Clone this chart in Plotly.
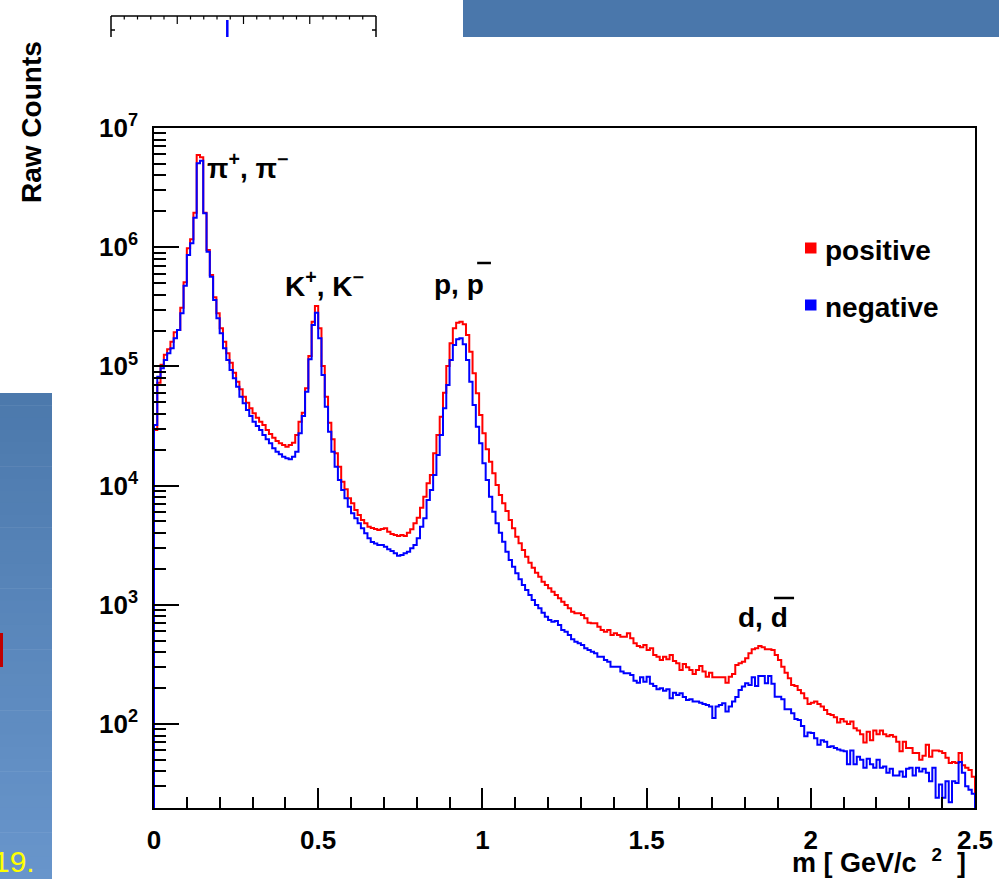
import numpy as np
import plotly.graph_objects as go

# Raw counts per 0.01 GeV/c^2 mass bin (0 - 2.5 GeV/c^2)
mass_min, mass_max, n_bins = 0.0, 2.5, 250

positive_counts = [
    29300, 73000, 103000, 125000, 139000, 161000, 193000, 202000, 311000, 508000,
    979000, 1165000, 1947000, 5937000, 5679000, 1947000, 947000, 585000, 380000, 279000,
    209000, 161000, 129000, 107400, 88600, 74400, 64200, 55700, 49600, 44500,
    40400, 37100, 34400, 32300, 29300, 27100, 25200, 23700, 22600, 21900,
    21200, 21900, 22900, 26600, 34400, 40900, 65500, 122300, 237100, 321000,
    208700, 100800, 55700, 33700, 24500, 18660, 14400, 10780, 9310, 7825,
    7100, 6240, 5665, 5145, 4828, 4520, 4408, 4323, 4242, 4323,
    4382, 4105, 3926, 3851, 3778, 3851, 3778, 4026, 4298, 4828,
    5378, 6523, 8070, 10450, 12270, 18660, 26570, 37840, 60170, 100800,
    156200, 208700, 232600, 237100, 225500, 183400, 132800, 87550, 59480, 39100,
    27460, 20170, 15860, 12680, 10120, 8340, 7100, 6122, 5145, 4382,
    3727, 3281, 2882, 2532, 2256, 2048, 1859, 1720, 1562, 1466,
    1375, 1288, 1208, 1134, 1062, 996, 935, 875, 848, 848,
    821, 770, 708, 699, 699, 655, 614, 595, 614, 558,
    577, 558, 540, 540, 577, 523, 475, 451, 440, 460,
    418, 432, 379, 367, 344, 367, 349, 379, 338, 323,
    284, 319, 299, 284, 263, 284, 307, 275, 249, 269,
    246, 246, 246, 246, 222, 249, 263, 313, 323, 333,
    356, 392, 423, 432, 451, 440, 423, 423, 418, 379,
    344, 302, 269, 242, 212, 208, 193, 181, 164, 147,
    151, 154, 147, 140, 131, 121, 119, 114, 103, 110,
    105, 100, 105, 92, 88, 82, 70, 86, 73, 88,
    82, 88, 82, 79, 81, 78, 71, 59, 71, 63,
    63, 57, 57, 50, 54, 67, 53, 60, 60, 59,
    57, 52, 47, 48, 47, 57, 45, 43, 41, 36,
]

negative_counts = [
    32200, 81980, 96400, 113200, 128800, 141800, 172000, 202000, 278900, 475300,
    860000, 1078000, 1768000, 5055000, 5315000, 1925000, 917000, 565600, 360600, 253200,
    189500, 141800, 113200, 93300, 79470, 67540, 55700, 49020, 43080, 38360,
    34360, 31600, 29300, 26570, 24460, 22630, 20550, 19250, 18300, 17470,
    16940, 16620, 17470, 19250, 27460, 38360, 61350, 114700, 222500, 282200,
    172000, 84700, 45900, 28330, 19250, 14400, 11140, 9185, 7825, 6650,
    5853, 5316, 4828, 4382, 3980, 3613, 3364, 3268, 3174, 3174,
    3072, 2921, 2827, 2704, 2582, 2617, 2704, 2788, 2979, 3174,
    3613, 4520, 5316, 7570, 9185, 12270, 18060, 26570, 44500, 69800,
    113200, 151200, 168800, 172000, 153200, 113200, 74400, 47450, 31200, 22630,
    15380, 11140, 8070, 6039, 4828, 4026, 3383, 2788, 2376, 2087,
    1838, 1636, 1466, 1331, 1208, 1097, 996, 935, 858, 795,
    746, 722, 731, 677, 614, 595, 558, 513, 490, 475,
    460, 432, 418, 404, 392, 367, 367, 344, 333, 302,
    302, 302, 275, 266, 266, 258, 231, 222, 246, 226,
    249, 217, 208, 196, 199, 190, 196, 164, 183, 175,
    181, 168, 159, 161, 154, 154, 151, 147, 144, 140,
    112, 140, 144, 149, 127, 140, 154, 168, 193, 206,
    220, 212, 246, 208, 253, 253, 220, 253, 217, 169,
    169, 161, 133, 133, 123, 110, 108, 96, 79, 85,
    84, 76, 67, 73, 71, 64, 65, 63, 61, 60,
    59, 46, 60, 46, 53, 50, 43, 51, 46, 43,
    50, 43, 44, 39, 42, 37, 37, 40, 36, 42,
    43, 37, 43, 40, 42, 39, 33, 43, 24, 31,
    24, 33, 22, 33, 32, 48, 39, 30, 28, 26,
]

x_tick_values = [0, 0.5, 1, 1.5, 2, 2.5]
x_tick_labels = ["0", "0.5", "1", "1.5", "2", "2.5"]
y_tick_values = [1e2, 1e3, 1e4, 1e5, 1e6, 1e7]
y_tick_labels = ["10<sup>2</sup>", "10<sup>3</sup>", "10<sup>4</sup>",
                 "10<sup>5</sup>", "10<sup>6</sup>", "10<sup>7</sup>"]

series_names = ["positive", "negative"]
series_colors = ["#ff0000", "#0000ff"]

# ---- page geometry (pixels) ----
W, H = 999, 879
PL, PR, PT, PB = 154, 975, 128, 808


def hx(px):
    return (px - PL) / (PR - PL)


def hy(py):
    return (PB - py) / (PB - PT)


edges = np.linspace(mass_min, mass_max, n_bins + 1)
FLOOR = 1.0  # below the visible range, so the outline closes on the axis


def outline(counts):
    xs = [edges[0]] + list(edges[:-1]) + [edges[-1], edges[-1]]
    ys = [FLOOR] + list(counts) + [counts[-1], FLOOR]
    return xs, ys


fig = go.Figure()
for name, counts, color in zip(series_names, [positive_counts, negative_counts], series_colors):
    xs, ys = outline(counts)
    fig.add_trace(go.Scatter(x=xs, y=ys, mode="lines", name=name,
                             line=dict(color=color, width=2, shape="hv"),
                             hoverinfo="skip"))

label_font = dict(family="Liberation Sans, Arial, sans-serif", color="black", weight="bold")

fig.update_layout(
    width=W, height=H,
    margin=dict(l=PL, r=W - PR, t=PT, b=H - PB, pad=0),
    paper_bgcolor="white", plot_bgcolor="white",
    showlegend=False,
)
fig.update_xaxes(
    range=[mass_min, mass_max], showgrid=False, zeroline=False, automargin=False,
    showline=True, mirror=True, linecolor="black", linewidth=1.5,
    ticks="inside", ticklen=20, tickwidth=1.5, tickcolor="black",
    tickmode="array", tickvals=x_tick_values, ticktext=x_tick_labels,
    tickfont=dict(size=26, **label_font), ticklabelstandoff=8,
    minor=dict(tickmode="linear", tick0=0, dtick=0.1, ticks="inside",
               ticklen=11, tickwidth=1.5, tickcolor="black"),
)
fig.update_yaxes(
    type="log", range=[1.295, 7.0], showgrid=False, zeroline=False, automargin=False,
    showline=True, mirror=True, linecolor="black", linewidth=1.5,
    ticks="inside", ticklen=25, tickwidth=1.5, tickcolor="black",
    tickmode="array", tickvals=y_tick_values, ticktext=y_tick_labels,
    tickfont=dict(size=26, **label_font), ticklabelstandoff=9,
    minor=dict(dtick="D1", ticks="inside", ticklen=12, tickwidth=1.5,
               tickcolor="black"),
)

shapes = []
annotations = []

# slide backdrop pieces around the chart
shapes.append(dict(type="rect", xref="paper", yref="paper",
                   x0=hx(463), x1=hx(W + 2), y0=hy(37), y1=hy(-2),
                   fillcolor="#4a77ab", line=dict(width=0), layer="above"))
n_bands = 40
top_rgb = np.array([76, 121, 172])
bot_rgb = np.array([104, 149, 203])
band_edges = np.linspace(393, H + 2, n_bands + 1)
for i in range(n_bands):
    t = i / (n_bands - 1)
    r, g, b = (top_rgb + (bot_rgb - top_rgb) * t).round().astype(int)
    shapes.append(dict(type="rect", xref="paper", yref="paper",
                       x0=hx(-2), x1=hx(52), y0=hy(band_edges[i + 1] + 0.5), y1=hy(band_edges[i]),
                       fillcolor=f"rgb({r},{g},{b})", line=dict(width=0), layer="above"))
shapes.append(dict(type="rect", xref="paper", yref="paper",
                   x0=hx(-2), x1=hx(3), y0=hy(667), y1=hy(633),
                   fillcolor="#c00000", line=dict(width=0), layer="above"))
annotations.append(dict(text="19.", xref="paper", yref="paper", x=hx(-9), y=hy(861),
                        xanchor="left", yanchor="middle", showarrow=False,
                        font=dict(family="Liberation Sans, Arial", size=30, color="#ffff00")))

# small axis strip at the top
strip_l, strip_r, strip_t, strip_b = 111, 376, 16, 37
line_k = dict(color="black", width=1.5)
shapes.append(dict(type="line", xref="paper", yref="paper",
                   x0=hx(strip_l), x1=hx(strip_r), y0=hy(strip_t), y1=hy(strip_t), line=line_k))
for sx in (strip_l, strip_r):
    shapes.append(dict(type="line", xref="paper", yref="paper",
                       x0=hx(sx), x1=hx(sx), y0=hy(strip_t), y1=hy(strip_b), line=line_k))
shapes.append(dict(type="line", xref="paper", yref="paper",
                   x0=hx(strip_l), x1=hx(strip_l + 4), y0=hy(30), y1=hy(30), line=line_k))
shapes.append(dict(type="line", xref="paper", yref="paper",
                   x0=hx(strip_r - 4), x1=hx(strip_r), y0=hy(30), y1=hy(30), line=line_k))
step = (strip_r - strip_l) / 20
for k in range(1, 20):
    tx = strip_l + k * step
    tl = 8 if k % 5 == 0 else 3.5
    shapes.append(dict(type="line", xref="paper", yref="paper",
                       x0=hx(tx), x1=hx(tx), y0=hy(strip_t), y1=hy(strip_t + tl),
                       line=dict(color="black", width=1.2)))
shapes.append(dict(type="line", xref="paper", yref="paper",
                   x0=hx(227.3), x1=hx(227.3), y0=hy(20), y1=hy(strip_b),
                   line=dict(color="#0000ff", width=2.5)))

# axis titles
annotations.append(dict(text="Raw Counts", xref="paper", yref="paper",
                        x=hx(31), y=hy(122), textangle=-90, showarrow=False,
                        xanchor="center", yanchor="middle",
                        font=dict(size=28, **label_font)))
annotations.append(dict(text="m [ GeV/c\u00a0\u00a0<sup>2</sup>\u00a0\u00a0]", xref="paper", yref="paper",
                        x=hx(968), y=hy(861), xanchor="right", yanchor="middle",
                        showarrow=False, font=dict(size=27, **label_font)))

# peak labels
peak_text = ["π<sup>+</sup>, π<sup>−</sup>", "K<sup>+</sup>, K<sup>−</sup>", "p, p", "d, d"]
peak_x = [0.155, 0.394, 0.848, 1.773]
peak_ypx = [166, 284, 284, 617]
for txt, px_, py_ in zip(peak_text, peak_x, peak_ypx):
    annotations.append(dict(text=txt, xref="x", yref="paper", x=px_, y=hy(py_),
                            xanchor="left", yanchor="middle", showarrow=False,
                            font=dict(size=28, **label_font)))
# anti-particle bars
for x0, x1, ypx in [(0.984, 1.026, 263), (1.888, 1.949, 598)]:
    shapes.append(dict(type="line", xref="x", yref="paper", x0=x0, x1=x1,
                       y0=hy(ypx), y1=hy(ypx), line=dict(color="black", width=2.5)))

# legend
for name, color, ypx in zip(series_names, series_colors, [248, 305]):
    shapes.append(dict(type="rect", xref="paper", yref="paper",
                       x0=hx(805), x1=hx(816.5), y0=hy(ypx + 5.5), y1=hy(ypx - 5.5),
                       fillcolor=color, line=dict(width=0)))
    annotations.append(dict(text=name, xref="paper", yref="paper", x=hx(823), y=hy(ypx + 2),
                            xanchor="left", yanchor="middle", showarrow=False,
                            font=dict(size=28, **label_font)))

fig.update_layout(shapes=shapes, annotations=annotations)
fig.write_html("out.html")
